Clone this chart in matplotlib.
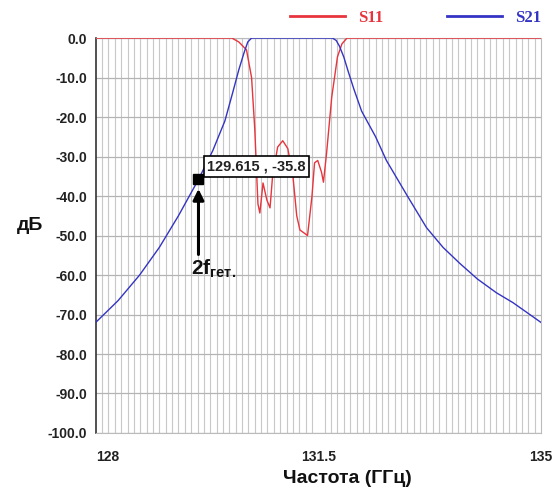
import numpy as np
import matplotlib.pyplot as plt

# S11 (red)
f_s11 = [128.0, 130.14, 130.25, 130.37, 130.45, 130.50, 130.55, 130.58, 130.63, 130.69,
         130.74, 130.78, 130.86, 130.94, 131.02, 131.10, 131.16, 131.21, 131.33, 131.40,
         131.44, 131.49, 131.55, 131.58, 131.63, 131.71, 131.80, 131.87, 131.95, 135.0]
s11 = [0, 0, -1, -3, -10, -23, -42, -44.3, -36.7, -41,
       -43, -35, -27.6, -26, -28, -35, -45, -48.6, -50, -40,
       -31.6, -31, -34, -36.5, -29, -15, -4.8, -1.5, 0, 0]

# S21 (blue)
f_s21 = [128.0, 128.35, 128.69, 129.0, 129.3, 129.615, 129.84, 130.03, 130.15, 130.25,
         130.33, 130.39, 130.45, 131.72, 131.78, 131.83, 131.9, 131.97, 132.06, 132.18,
         132.4, 132.57, 132.9, 133.2, 133.46, 133.72, 134.0, 134.3, 134.56, 135.0]
s21 = [-72, -66.5, -60, -53, -45, -35.8, -28.5, -21, -14, -8,
       -3.8, -1.0, 0, 0, -0.6, -2, -4.8, -8.5, -13, -18.5,
       -25, -31, -40, -48, -53, -57, -61, -64.5, -67, -72]

marker_f = 129.615
marker_db = -35.8

x_ticks = [128, 131.5, 135]
x_labels = ['128', '131.5', '135']
y_ticks = list(range(0, -101, -10))

plt.rcParams['font.family'] = ['Liberation Sans', 'DejaVu Sans']

fig = plt.figure(figsize=(5.6, 4.94), dpi=100)
ax = fig.add_axes([0.171, 0.1235, 0.795, 0.7995])

red = '#e8343c'
blue = '#3434c4'

ax.plot(f_s11, s11, color=red, lw=1.0, label='S11', zorder=3)
ax.plot(f_s21, s21, color=blue, lw=1.0, label='S21', zorder=3)

ax.set_xlim(128, 135)
ax.set_ylim(-100, 0)

# grid
ax.set_xticks(np.arange(128, 135.001, 0.1), minor=True)
ax.grid(True, which='minor', axis='x', color='#c8c8c8', lw=0.8)
ax.set_yticks(y_ticks)
ax.grid(True, which='major', axis='y', color='#b4b4b4', lw=0.9)
ax.set_axisbelow(True)

ax.set_xticks(x_ticks)
ax.set_xticklabels(x_labels, fontsize=10, fontweight='bold', color='#222222')
ax.set_yticklabels(['%.1f' % v for v in y_ticks], fontsize=10, fontweight='bold', color='#222222')
ax.tick_params(axis='both', which='both', length=0)
ax.tick_params(axis='x', pad=12)
ax.tick_params(axis='y', pad=6)
ax.get_xticklabels()[0].set_ha('left')

for s in ['top', 'right', 'bottom']:
    ax.spines[s].set_color('#bbbbbb')
    ax.spines[s].set_linewidth(0.8)
ax.spines['left'].set_color('#333333')
ax.spines['left'].set_linewidth(1.2)

# legend above the plot
leg = ax.legend(loc='center right', bbox_to_anchor=(1.0, 1.05), ncol=2, frameon=False,
                handlelength=3.3, columnspacing=3.8, borderpad=0, borderaxespad=0,
                prop={'family': 'Liberation Serif', 'weight': 'bold', 'size': 12})
for t, c in zip(leg.get_texts(), [red, blue]):
    t.set_color(c)
for h in leg.legend_handles:
    h.set_linewidth(2)

# marker + readout box
ax.plot([marker_f], [marker_db], 's', color='black', ms=7, zorder=5)
ax.annotate('%.3f , %.1f' % (marker_f, marker_db), xy=(marker_f, marker_db),
            xytext=(58, 13), textcoords='offset pixels', ha='center', va='center',
            fontsize=10.5, fontweight='bold', color='#222222',
            bbox=dict(boxstyle='square,pad=0.25', fc='white', ec='black', lw=1.2), zorder=6)
ax.annotate('', xy=(marker_f, -37.5), xytext=(marker_f, -55.5),
            arrowprops=dict(arrowstyle='-|>', lw=2.2, color='black', mutation_scale=16),
            zorder=5)
ax.text(129.49, -58.3, r'2f$_{\mathregular{гет.}}$', fontsize=15, fontweight='bold',
        ha='left', va='center', color='#111111')

fig.text(0.054, 1 - 225 / 494, 'дБ', fontsize=14, fontweight='bold', ha='center', va='center',
         color='#111111')
fig.text(0.62, 1 - 478 / 494, 'Частота (ГГц)', fontsize=14, fontweight='bold', ha='center',
         va='center', color='#111111')

fig.savefig('out.png', dpi=100)
